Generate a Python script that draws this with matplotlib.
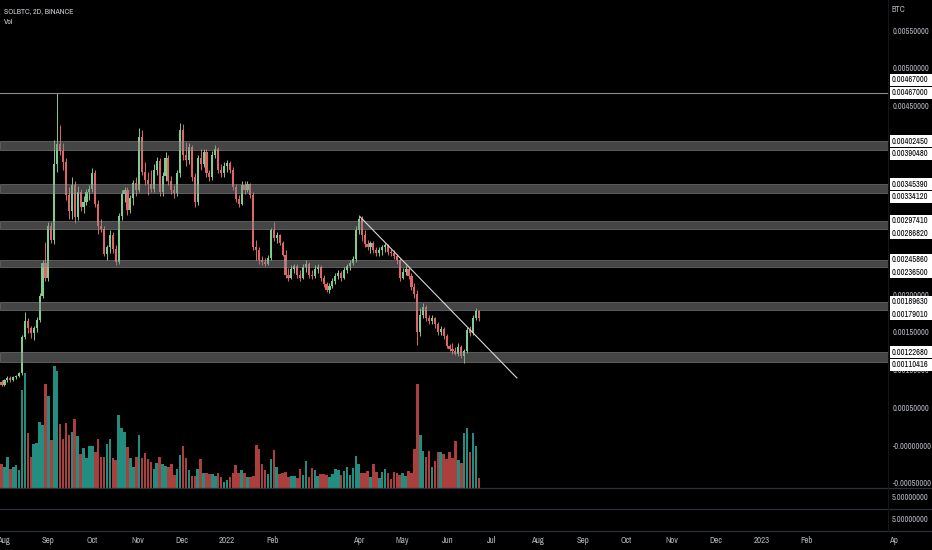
import numpy as np
import pandas as pd
import matplotlib
matplotlib.use("Agg")
import matplotlib.pyplot as plt
import matplotlib.dates as mdates
import matplotlib.font_manager as fm
from matplotlib.lines import Line2D
from matplotlib.patches import Rectangle

# SOLBTC 2D candles (BTC), first bar 2021-07-27
first_open = 0.00074
closes = [0.00079, 0.00084, 0.00080, 0.00086, 0.00089, 0.00086, 0.00090, 0.00092, 0.00095, 0.00143,
          0.00165, 0.00155, 0.00148, 0.00155, 0.00166, 0.00198, 0.00241, 0.00222, 0.00290, 0.00272,
          0.00372, 0.00399, 0.00390, 0.00375, 0.00332, 0.00310, 0.00345, 0.00302, 0.00335, 0.00315,
          0.00322, 0.00335, 0.00340, 0.00360, 0.00320, 0.00290, 0.00286, 0.00253, 0.00262, 0.00278,
          0.00260, 0.00243, 0.00303, 0.00333, 0.00338, 0.00312, 0.00328, 0.00348, 0.00338, 0.00408,
          0.00362, 0.00352, 0.00346, 0.00340, 0.00365, 0.00376, 0.00335, 0.00356, 0.00380, 0.00350,
          0.00338, 0.00334, 0.00360, 0.00418, 0.00385, 0.00378, 0.00395, 0.00355, 0.00322, 0.00380,
          0.00372, 0.00388, 0.00360, 0.00355, 0.00385, 0.00392, 0.00365, 0.00360, 0.00370, 0.00374,
          0.00364, 0.00342, 0.00326, 0.00320, 0.00345, 0.00338, 0.00346, 0.00332, 0.00263, 0.00258,
          0.00245, 0.00242, 0.00240, 0.00248, 0.00285, 0.00275, 0.00278, 0.00268, 0.00252, 0.00226,
          0.00222, 0.00234, 0.00237, 0.00226, 0.00222, 0.00236, 0.00240, 0.00226, 0.00224, 0.00233,
          0.00236, 0.00222, 0.00213, 0.00206, 0.00211, 0.00218, 0.00224, 0.00228, 0.00222, 0.00232,
          0.00237, 0.00241, 0.00246, 0.00285, 0.00300, 0.00278, 0.00266, 0.00262, 0.00268, 0.00258,
          0.00254, 0.00259, 0.00262, 0.00265, 0.00256, 0.00254, 0.00250, 0.00245, 0.00222, 0.00230,
          0.00234, 0.00224, 0.00210, 0.00200, 0.00150, 0.00172, 0.00183, 0.00168, 0.00164, 0.00168,
          0.00160, 0.00150, 0.00154, 0.00144, 0.00131, 0.00127, 0.00124, 0.00121, 0.00130, 0.00118,
          0.00125, 0.00152, 0.00148, 0.00169, 0.00178, 0.00168]
highs = [0.00082, 0.00087, 0.00086, 0.00088, 0.00092, 0.00091, 0.00092, 0.00093, 0.00097, 0.00146,
         0.00176, 0.00168, 0.00158, 0.00158, 0.00170, 0.00202, 0.00245, 0.00269, 0.00296, 0.00296,
         0.00404, 0.00467, 0.00424, 0.00400, 0.00380, 0.00342, 0.00355, 0.00350, 0.00343, 0.00340,
         0.00330, 0.00340, 0.00345, 0.00367, 0.00365, 0.00325, 0.00300, 0.00290, 0.00265, 0.00285,
         0.00282, 0.00265, 0.00308, 0.00338, 0.00342, 0.00342, 0.00332, 0.00352, 0.00355, 0.00420,
         0.00418, 0.00375, 0.00362, 0.00365, 0.00372, 0.00382, 0.00380, 0.00362, 0.00388, 0.00385,
         0.00356, 0.00345, 0.00365, 0.00427, 0.00425, 0.00402, 0.00400, 0.00398, 0.00360, 0.00385,
         0.00392, 0.00392, 0.00392, 0.00365, 0.00390, 0.00398, 0.00395, 0.00372, 0.00375, 0.00378,
         0.00376, 0.00368, 0.00346, 0.00332, 0.00350, 0.00350, 0.00350, 0.00348, 0.00335, 0.00272,
         0.00262, 0.00250, 0.00248, 0.00252, 0.00288, 0.00296, 0.00282, 0.00280, 0.00270, 0.00258,
         0.00235, 0.00238, 0.00240, 0.00240, 0.00232, 0.00240, 0.00245, 0.00243, 0.00232, 0.00238,
         0.00240, 0.00238, 0.00226, 0.00216, 0.00215, 0.00222, 0.00228, 0.00232, 0.00231, 0.00236,
         0.00240, 0.00245, 0.00250, 0.00290, 0.00305, 0.00303, 0.00285, 0.00272, 0.00270, 0.00270,
         0.00262, 0.00262, 0.00265, 0.00268, 0.00267, 0.00260, 0.00258, 0.00253, 0.00248, 0.00235,
         0.00238, 0.00236, 0.00228, 0.00215, 0.00205, 0.00182, 0.00188, 0.00186, 0.00172, 0.00172,
         0.00170, 0.00163, 0.00158, 0.00156, 0.00147, 0.00134, 0.00135, 0.00130, 0.00135, 0.00132,
         0.00127, 0.00156, 0.00158, 0.00172, 0.00181, 0.00179]
lows = [0.00070, 0.00076, 0.00078, 0.00078, 0.00083, 0.00084, 0.00085, 0.00087, 0.00090, 0.00093,
        0.00140, 0.00148, 0.00142, 0.00139, 0.00150, 0.00163, 0.00195, 0.00218, 0.00218, 0.00268,
        0.00266, 0.00362, 0.00385, 0.00365, 0.00325, 0.00300, 0.00300, 0.00295, 0.00298, 0.00310,
        0.00308, 0.00318, 0.00325, 0.00335, 0.00315, 0.00280, 0.00283, 0.00250, 0.00245, 0.00255,
        0.00255, 0.00239, 0.00240, 0.00298, 0.00322, 0.00305, 0.00308, 0.00318, 0.00330, 0.00335,
        0.00358, 0.00345, 0.00332, 0.00335, 0.00335, 0.00358, 0.00330, 0.00330, 0.00350, 0.00345,
        0.00333, 0.00328, 0.00330, 0.00355, 0.00378, 0.00370, 0.00372, 0.00350, 0.00316, 0.00318,
        0.00365, 0.00368, 0.00355, 0.00350, 0.00352, 0.00380, 0.00360, 0.00355, 0.00355, 0.00362,
        0.00360, 0.00338, 0.00322, 0.00316, 0.00318, 0.00333, 0.00335, 0.00328, 0.00258, 0.00245,
        0.00240, 0.00238, 0.00237, 0.00238, 0.00245, 0.00270, 0.00268, 0.00265, 0.00250, 0.00222,
        0.00218, 0.00220, 0.00228, 0.00222, 0.00218, 0.00220, 0.00230, 0.00222, 0.00220, 0.00222,
        0.00228, 0.00218, 0.00210, 0.00203, 0.00202, 0.00208, 0.00214, 0.00220, 0.00218, 0.00220,
        0.00228, 0.00232, 0.00238, 0.00242, 0.00280, 0.00270, 0.00262, 0.00258, 0.00255, 0.00255,
        0.00250, 0.00250, 0.00252, 0.00256, 0.00252, 0.00250, 0.00246, 0.00240, 0.00218, 0.00220,
        0.00226, 0.00220, 0.00205, 0.00195, 0.00133, 0.00145, 0.00168, 0.00165, 0.00160, 0.00160,
        0.00155, 0.00146, 0.00146, 0.00140, 0.00128, 0.00124, 0.00120, 0.00119, 0.00118, 0.00115,
        0.00109, 0.00122, 0.00145, 0.00146, 0.00166, 0.00165]
volumes = [29, 39, 24, 21, 31, 19, 21, 23, 18, 98, 115, 55, 31, 44, 45, 66, 63, 104, 92, 48,
           122, 117, 64, 49, 65, 53, 56, 69, 52, 34, 40, 30, 42, 42, 36, 49, 31, 31, 44, 49,
           30, 28, 73, 60, 56, 41, 30, 21, 31, 53, 30, 35, 29, 26, 19, 25, 31, 24, 22, 21,
           24, 13, 19, 33, 42, 30, 18, 12, 12, 19, 29, 15, 15, 14, 14, 12, 15, 11, 6, 8,
           11, 15, 23, 15, 18, 15, 11, 11, 12, 43, 39, 24, 18, 14, 29, 38, 21, 14, 15, 16,
           11, 12, 12, 10, 19, 13, 27, 11, 20, 18, 12, 14, 14, 13, 11, 14, 19, 18, 13, 17,
           21, 13, 20, 32, 24, 15, 15, 17, 11, 24, 16, 10, 16, 19, 15, 9, 16, 15, 13, 15,
           12, 17, 15, 39, 104, 53, 37, 31, 37, 21, 27, 36, 36, 34, 29, 36, 30, 47, 28, 25,
           55, 60, 36, 55, 42, 10]

# support / resistance zones drawn on the chart
band_tops = [0.0040245, 0.0034539, 0.0029741, 0.0024586, 0.0018963, 0.0012268]
band_bottoms = [0.0039048, 0.0033412, 0.0028682, 0.0023650, 0.0017901, 0.00110416]
ath_level = 0.00467
trend_dates = ['2022-04-02', '2022-07-18']
trend_prices = [0.003024, 0.000889]

# scale labels (0.0030 / 0.0035 / 0.0040 sit fully under the level boxes)
price_ticks = [-0.0005, 0.0, 0.0005, 0.0010, 0.0015, 0.0020, 0.0025, 0.0045, 0.0050, 0.0055]
price_tick_labels = ['-0.00050000', '-0.00000000', '0.00050000', '0.00100000', '0.00150000',
                     '0.00200000', '0.00250000', '0.00450000', '0.00500000', '0.00550000']
month_dates = ['2021-08-01', '2021-09-01', '2021-10-01', '2021-11-01', '2021-12-01', '2022-01-01',
               '2022-02-01', '2022-04-01', '2022-05-01', '2022-06-01', '2022-07-01', '2022-08-01',
               '2022-09-01', '2022-10-01', '2022-11-01', '2022-12-01', '2023-01-01', '2023-02-01',
               '2023-04-01']
month_labels = ['Aug', 'Sep', 'Oct', 'Nov', 'Dec', '2022', 'Feb', 'Apr', 'May', 'Jun', 'Jul',
                'Aug', 'Sep', 'Oct', 'Nov', 'Dec', '2023', 'Feb', 'Ap']

UP = '#7fcc8f'
DOWN = '#e06666'
VOL_UP = '#238e80'
VOL_DOWN = '#ab3f3d'
TXT = '#b2b5be'
SEP = '#2e3038'

# narrowest font available (TradingView labels are condensed)
narrow = sorted({f.name for f in fm.fontManager.ttflist
                 if f.stretch in ('condensed', 'semi-condensed', 'extra-condensed', 'ultra-condensed')
                 and 'Mono' not in f.name and 'Serif' not in f.name})
family = narrow[0] if narrow else 'DejaVu Sans'
plt.rcParams['font.family'] = [family, 'DejaVu Sans']

opens = [first_open] + closes[:-1]
dates = pd.date_range('2021-07-27', periods=len(closes), freq='2D')
xs = mdates.date2num(dates)
o = np.array(opens)
c = np.array(closes)
up = c >= o

W, H = 932, 550
fig = plt.figure(figsize=(W / 100, H / 100), dpi=100, facecolor='black')
renderer = fig.canvas.get_renderer()


def fit_size(text, target_px, base=6.0, cap=8.0):
    t = fig.text(0, 0, text, fontsize=base)
    w = t.get_window_extent(renderer=renderer).width
    t.remove()
    return min(base * target_px / w, cap)


fs_price = fit_size('0.00402450', 37)
fs_time = fit_size('2022', 16)
fs_head = fit_size('SOLBTC, 2D, BINANCE', 70)

# x scale: 1.464 px per day, Aug 1 2021 at x=3
x_aug = mdates.date2num(pd.Timestamp('2021-08-01'))
left = x_aug - 3 / 1.464
right = x_aug + 885 / 1.464

ax = fig.add_axes([0, 62 / H, 888 / W, 488 / H])
ax.set_facecolor('black')
vax = ax.twinx()
ax.set_zorder(2)
ax.patch.set_visible(False)
vax.set_zorder(1)

vax.bar(xs, volumes, width=1.75, color=[VOL_UP if u else VOL_DOWN for u in up], linewidth=0)
vax.set_ylim(0, max(volumes) * 4)
vax.set_yticks([])
for s in vax.spines.values():
    s.set_visible(False)

cols = [UP if u else DOWN for u in up]
ax.vlines(xs, lows, highs, colors=cols, linewidth=0.7, zorder=2)
body = np.maximum(np.abs(c - o), 0.000008)
ax.bar(xs, body, bottom=np.minimum(o, c), width=1.45, color=cols, linewidth=0, zorder=2)

for top, bot in zip(band_tops, band_bottoms):
    ax.axhspan(bot, top, facecolor='#8a8a8a', alpha=0.5, edgecolor='#a8a8a8', linewidth=0.6, zorder=3)
ax.axhline(ath_level, color='#8c8c8c', linewidth=0.8, zorder=3)
ax.plot(mdates.date2num(pd.to_datetime(trend_dates)), trend_prices, color='#d9d9d9', linewidth=0.8, zorder=4)

ax.set_xlim(left, right)
ax.set_ylim(-0.00057, 0.00590)
ax.set_xticks([])
ax.yaxis.tick_right()
ax.set_yticks(price_ticks)
ax.set_yticklabels(price_tick_labels)
ax.tick_params(axis='y', length=0, pad=3.5, labelsize=fs_price, labelcolor=TXT)
for s in ax.spines.values():
    s.set_visible(False)

# time scale
tax = fig.add_axes([0, 0, 1, 19 / H])
tax.set_facecolor('black')
tax.set_xlim(left, left + (right - left) * W / 888)
tax.set_ylim(0, 1)
tax.axis('off')
for d, lab in zip(month_dates, month_labels):
    tax.text(mdates.date2num(pd.Timestamp(d)), 0.5, lab, color=TXT, fontsize=fs_time,
             ha='center', va='center', fontweight='bold' if lab.isdigit() else 'normal')

# pane separators
for yp in [62, 41, 19]:
    fig.add_artist(Line2D([0, 1], [yp / H, yp / H], transform=fig.transFigure, color=SEP, linewidth=0.9))
fig.add_artist(Line2D([888 / W, 888 / W], [19 / H, 1], transform=fig.transFigure, color='#15161a', linewidth=0.8))

fig.text(891.5 / W, 1 - 498 / H, '5.00000000', color=TXT, fontsize=fs_price, va='center')
fig.text(891.5 / W, 1 - 520 / H, '5.00000000', color=TXT, fontsize=fs_price, va='center')
fig.text(891.5 / W, 1 - 10 / H, 'BTC', color=TXT, fontsize=fs_price, va='center')
fig.text(4 / W, 1 - 11 / H, 'SOLBTC, 2D, BINANCE', color='#d1d4dc', fontsize=fs_head, va='center')
fig.text(4 / W, 1 - 22 / H, 'Vol', color='#d1d4dc', fontsize=fs_head, va='center')

# white price labels for each level
pairs = [(ath_level, ath_level)] + list(zip(band_tops, band_bottoms))
for hi, lo in pairs:
    y_hi = ax.transData.transform((0, hi))[1]
    y_lo = ax.transData.transform((0, lo))[1]
    if hi == lo:
        y_hi = y_lo + 13
    else:
        y_lo = min(y_lo, y_hi - 12.5)
    for val, yp in [(hi, y_hi), (lo, y_lo)]:
        fig.add_artist(Rectangle((889.5 / W, (yp - 6) / H), 42 / W, 12 / H, transform=fig.transFigure,
                                 facecolor='white', edgecolor='none', zorder=5))
        fig.text(891.5 / W, yp / H, f'{val:.8f}', color='black', fontsize=fs_price,
                 ha='left', va='center', zorder=6)

fig.savefig('out.png', dpi=100, facecolor='black')
